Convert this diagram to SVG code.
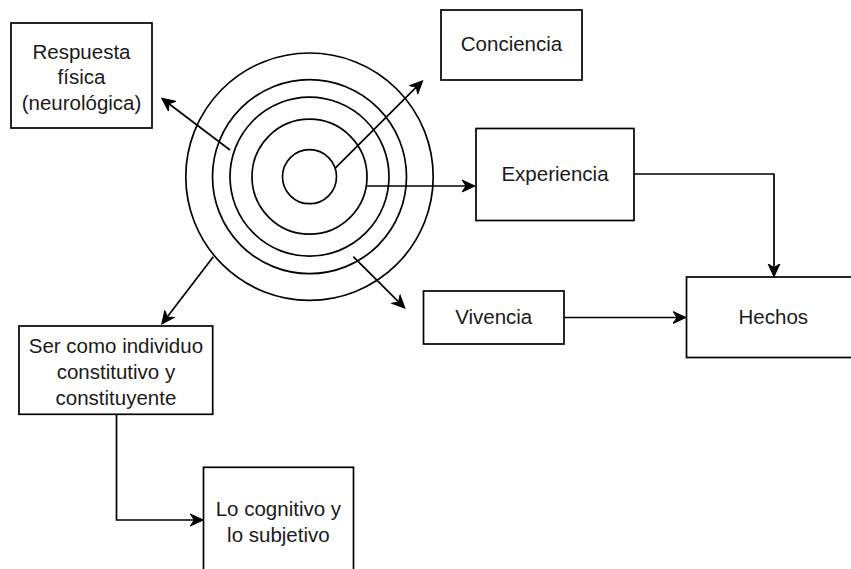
<svg xmlns="http://www.w3.org/2000/svg" width="851" height="569" viewBox="0 0 851 569">
<style>
.box{fill:#ffffff;stroke:#000000;stroke-width:1.7}
.ring{fill:none;stroke:#000000;stroke-width:1.7}
.edge{fill:none;stroke:#000000;stroke-width:1.7;marker-end:url(#arr)}
text{font-family:"Liberation Sans",Arial,sans-serif;font-size:20.5px;fill:#1a1a1a;text-anchor:middle}
</style>
<defs>
<marker id="arr" markerUnits="userSpaceOnUse" markerWidth="16" markerHeight="16" viewBox="0 0 16 16" refX="4" refY="8" orient="auto">
<path d="M0,2 L13,8 L0,14 L4,8 Z" fill="#000000" stroke="#000000" stroke-width="1"/>
</marker>
</defs>
<rect width="851" height="569" fill="#ffffff"/>
<g id="rings">
<circle class="ring" cx="309.5" cy="176.7" r="27"/>
<circle class="ring" cx="309.5" cy="176.7" r="57.5"/>
<circle class="ring" cx="309.5" cy="176.7" r="79.5"/>
<circle class="ring" cx="309.5" cy="176.7" r="97"/>
<circle class="ring" cx="309.5" cy="176.7" r="123.7"/>
</g>
<g id="respuesta">
<rect class="box" x="11" y="23" width="141" height="105"/>
<text x="81.5" y="58.5">Respuesta</text>
<text x="81.5" y="84">física</text>
<text x="81.5" y="110">(neurológica)</text>
</g>
<g id="conciencia">
<rect class="box" x="441" y="10" width="141" height="70"/>
<text x="511.5" y="50.5">Conciencia</text>
</g>
<g id="experiencia">
<rect class="box" x="476" y="128.5" width="158" height="92"/>
<text x="555" y="180.5">Experiencia</text>
</g>
<g id="vivencia">
<rect class="box" x="423.5" y="291" width="140.5" height="53"/>
<text x="493.7" y="323.5">Vivencia</text>
</g>
<g id="hechos">
<rect class="box" x="686.5" y="277" width="174" height="80.5"/>
<text x="773.3" y="323.5">Hechos</text>
</g>
<g id="ser">
<rect class="box" x="19" y="326" width="193.7" height="88.3"/>
<text x="115.9" y="352.5">Ser como individuo</text>
<text x="115.9" y="378.5">constitutivo y</text>
<text x="115.9" y="404.5">constituyente</text>
</g>
<g id="cognitivo">
<rect class="box" x="203.5" y="467.3" width="150" height="108"/>
<text x="278.4" y="515.5">Lo cognitivo y</text>
<text x="278.4" y="541.5">lo subjetivo</text>
</g>
<g id="connectors">
<path class="edge" d="M230,150 L168.9,103.7"/>
<path class="edge" d="M335,168.3 L416.3,87.1"/>
<path class="edge" d="M366,186 L466,186"/>
<path class="edge" d="M353.3,256.7 L398.6,301.9"/>
<path class="edge" d="M213.3,256.7 L167.2,316.9"/>
<path class="edge" d="M634,174 L774,174 L774,267.7"/>
<path class="edge" d="M564,317.5 L677,317.5"/>
<path class="edge" d="M116.5,414.3 L116.5,520 L194.3,520"/>
</g>
</svg>
